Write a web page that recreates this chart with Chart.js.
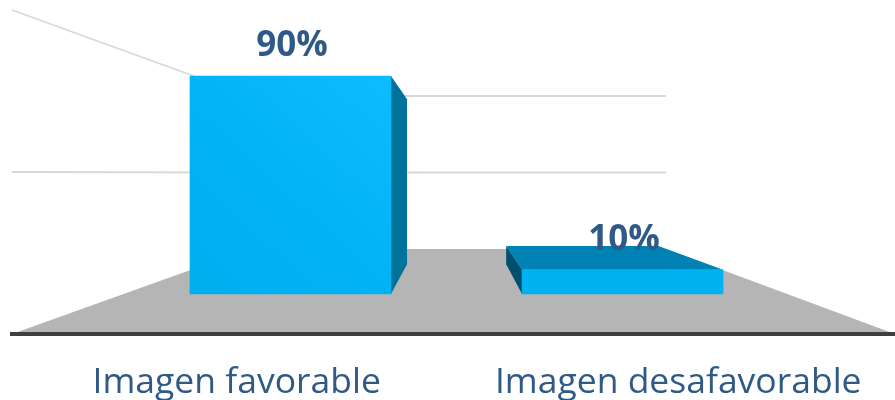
<!DOCTYPE html>
<html>
<head>
<meta charset="utf-8">
<script src="https://cdn.jsdelivr.net/npm/chart.js@4"></script>
<style>html,body{margin:0;padding:0;background:#fff}canvas{display:block}</style>
</head>
<body>
<canvas id="c" width="895" height="400"></canvas>
<script>
const categories = ["Imagen favorable", "Imagen desafavorable"];
const barPositions = [0, 1];
const values = [90, 10];
const valueLabels = ["90%", "10%"];
const wallTicks = [50, 100];

const ink = "#2f5a87";
const vanish = {x: 457, y: 172, depth: 0.243};
const wallLeft = 249, wallRight = 666;

function poly(ctx, pts, fill) {
  ctx.beginPath();
  pts.forEach((p, i) => i ? ctx.lineTo(p[0], p[1]) : ctx.moveTo(p[0], p[1]));
  ctx.closePath();
  ctx.fillStyle = fill;
  ctx.fill();
}
function toBack(x, y) {
  return [x + (vanish.x - x) * vanish.depth, y + (vanish.y - y) * vanish.depth];
}

const scene = {
  id: "scene",
  beforeDatasetsDraw(chart) {
    const {ctx, chartArea: a, scales} = chart;
    const front = scales.yFront, back = scales.yBack;
    ctx.save();
    // floor
    poly(ctx, [[a.left, front.getPixelForValue(0)], [wallLeft, back.getPixelForValue(0)],
               [wallRight, back.getPixelForValue(0)], [a.right, front.getPixelForValue(0)]], "#b5b5b5");
    // gridlines on left wall and back wall
    ctx.strokeStyle = "#d9d9d9";
    ctx.lineWidth = 1.8;
    wallTicks.forEach(v => {
      ctx.beginPath();
      ctx.moveTo(a.left, front.getPixelForValue(v));
      ctx.lineTo(wallLeft, back.getPixelForValue(v));
      ctx.lineTo(wallRight, back.getPixelForValue(v));
      ctx.stroke();
    });
    // 3D faces of the bars
    chart.getDatasetMeta(0).data.forEach(bar => {
      const l = bar.x - bar.width / 2, r = bar.x + bar.width / 2, t = bar.y, b = bar.base;
      if (r < vanish.x) {
        poly(ctx, [[r, t], toBack(r, t), toBack(r, b), [r, b]], "#00729b");
      }
      if (l > vanish.x) {
        poly(ctx, [[l, t], toBack(l, t), toBack(l, b), [l, b]], "#004f70");
      }
      if (t > vanish.y) {
        poly(ctx, [[l, t], toBack(l, t), toBack(r, t), [r, t]], "#0082b4");
      }
    });
    ctx.restore();
  },
  afterDatasetsDraw(chart) {
    const {ctx} = chart;
    ctx.save();
    ctx.font = 'bold 35px "Open Sans"';
    ctx.fillStyle = ink;
    ctx.textAlign = "center";
    ctx.textBaseline = "middle";
    chart.getDatasetMeta(0).data.forEach((bar, i) => {
      ctx.fillText(valueLabels[i], bar.x + 1.5, bar.y - 30);
    });
    ctx.restore();
  }
};

new Chart(document.getElementById("c"), {
  type: "bar",
  data: {
    datasets: [{
      data: barPositions.map((x, i) => ({x: x, y: values[i]})),
      xAxisID: "xBars",
      yAxisID: "y",
      barThickness: 201,
      borderWidth: 0,
      backgroundColor(ctx) {
        const el = ctx.chart.getDatasetMeta(0).data[ctx.dataIndex];
        if (ctx.dataIndex !== 0 || !el) return "#00b2f2";
        const g = ctx.chart.ctx.createLinearGradient(190, 294, 391, 76);
        g.addColorStop(0, "#00aeef");
        g.addColorStop(0.5, "#02b3f5");
        g.addColorStop(1, "#0dbcff");
        return g;
      }
    }]
  },
  options: {
    responsive: false,
    animation: false,
    layout: {padding: {left: 12, right: 0, top: 10, bottom: 0}},
    plugins: {legend: {display: false}, tooltip: {enabled: false}},
    scales: {
      xBars: {type: "linear", axis: "x", display: false, offset: false, min: -0.8389, max: 1.8208},
      xLabels: {
        type: "category", axis: "x", position: "bottom", labels: categories, offset: true,
        grid: {display: false},
        border: {display: true, color: "#3f3f3f", width: 4, z: 1},
        ticks: {color: ink, font: {family: "Open Sans", size: 35.5}, padding: 20, labelOffset: 4, maxRotation: 0, autoSkip: false},
        afterFit(s) { s.height = 66; }
      },
      y: {type: "linear", axis: "y", display: false, min: -16.52, max: 117.25},
      yFront: {type: "linear", axis: "y", display: false, min: 0, max: 100},
      yBack: {type: "linear", axis: "y", display: false, min: -55.56, max: 156.2}
    }
  },
  plugins: [scene]
});
</script>
</body>
</html>
